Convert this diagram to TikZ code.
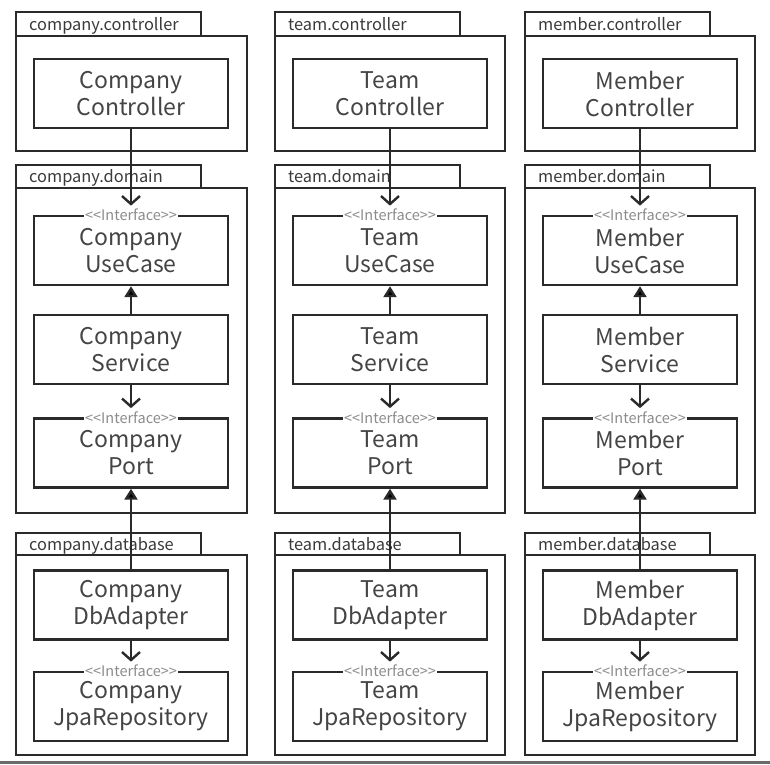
\documentclass[tikz,border=0pt]{standalone}
\usepackage{fontspec}
\setmainfont{Noto Sans CJK KR}
\newfontfamily\tagfont{Noto Sans CJK KR}
\usetikzlibrary{arrows.meta,positioning}

\definecolor{ink}{HTML}{2A2A2A}
\definecolor{txt}{HTML}{444444}
\definecolor{pkgtxt}{HTML}{3A3A3A}
\definecolor{tagtxt}{HTML}{8C8C8C}
\definecolor{rulegray}{HTML}{6A6A6A}

\tikzset{
  pkgline/.style={draw=ink,line width=2.4pt},
  pkglabel/.style={anchor=base west,inner sep=0pt,text=pkgtxt,font=\fontsize{16.4}{19}\selectfont},
  comp/.style={draw=ink,line width=2.4pt,minimum width=194pt,minimum height=69pt,align=center,text=txt,font=\fontsize{23}{27}\selectfont},
  tag/.style={fill=white,inner sep=1pt,text=tagtxt,font=\tagfont\fontsize{14.5}{14.5}\selectfont},
  uses/.style={-{Straight Barb[length=8pt,width=18pt]},draw=ink,line width=2.4pt},
  impl/.style={-{Triangle[length=11pt,width=13pt]},draw=ink,line width=2.4pt}
}

\begin{document}
\begin{tikzpicture}[x=1pt,y=-1pt]
\useasboundingbox (0,0) rectangle (770,764);
\foreach \pkg/\Name/\x/\w in {company/Company/16/231,team/Team/275/230,member/Member/525/230}{
  % packages
  \draw[pkgline] (\x,12) rectangle ++(185,24);
  \draw[pkgline] (\x,36) rectangle ++(\w,115);
  \node[pkglabel] (\pkg-ctl-pkg) at (\x+13,30) {\pkg.controller};
  \draw[pkgline] (\x,165) rectangle ++(185,23);
  \draw[pkgline] (\x,188) rectangle ++(\w,325);
  \node[pkglabel] (\pkg-dom-pkg) at (\x+13,182) {\pkg.domain};
  \draw[pkgline] (\x,533) rectangle ++(185,22);
  \draw[pkgline] (\x,555) rectangle ++(\w,200);
  \node[pkglabel] (\pkg-db-pkg) at (\x+13,550) {\pkg.database};
  % components
  \node[comp] (\pkg-ctl) at (\x+115,93.5) {\Name\\Controller};
  \node[comp] (\pkg-uc) at (\x+115,250.5) {\Name\\UseCase};
  \node[comp] (\pkg-svc) at (\x+115,349.5) {\Name\\Service};
  \node[comp] (\pkg-port) at (\x+115,453) {\Name\\Port};
  \node[comp] (\pkg-db) at (\x+115,605) {\Name\\DbAdapter};
  \node[comp] (\pkg-jpa) at (\x+115,706.5) {\Name\\JpaRepository};
  \node[tag] (\pkg-uc-tag) at (\pkg-uc.north) {<<Interface>>};
  \node[tag] (\pkg-port-tag) at (\pkg-port.north) {<<Interface>>};
  \node[tag] (\pkg-jpa-tag) at (\pkg-jpa.north) {<<Interface>>};
  \path[uses,shorten >=2pt]
    (\pkg-ctl) edge (\pkg-uc-tag)
    (\pkg-svc) edge (\pkg-port-tag)
    (\pkg-db) edge (\pkg-jpa-tag);
  \path[impl]
    (\pkg-svc) edge (\pkg-uc)
    (\pkg-db) edge (\pkg-port);
}
\draw[rulegray,line width=2.5pt] (0,762.5) -- (770,762.5);
\end{tikzpicture}
\end{document}
